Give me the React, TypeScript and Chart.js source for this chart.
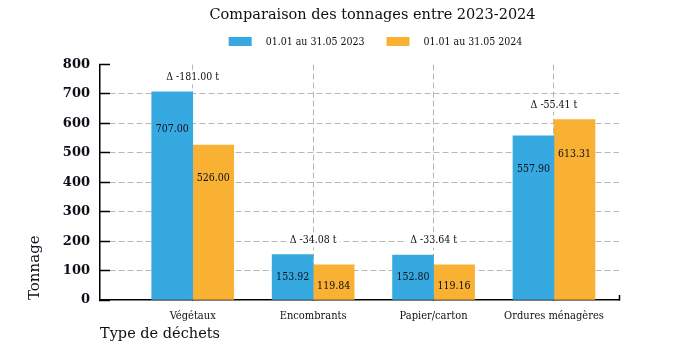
import React, { useEffect, useRef } from 'react';
import { Chart, registerables } from 'chart.js';

Chart.register(...registerables);

const chartTitle = 'Comparaison des tonnages entre 2023-2024';
const yAxisTitle = 'Tonnage';
const xAxisTitle = 'Type de déchets';
const categories = ['Végétaux', 'Encombrants', 'Papier/carton', 'Ordures ménagères'];
const seriesLabels = ['01.01 au 31.05 2023', '01.01 au 31.05 2024'];
const values2023 = [707.0, 153.92, 152.8, 557.9];
const values2024 = [526.0, 119.84, 119.16, 613.31];
const deltas = [-181.0, -34.08, -33.64, -55.41];
const yMin = 0;
const yMax = 800;
const yStep = 100;

const BLUE = '#36a9e1';
const ORANGE = '#f8b133';
const GRID = '#b8b8b8';
const TEXT = '#0e0e18';
const SERIF = '"DejaVu Serif", serif';
const COND = '"DejaVu Serif Condensed", "DejaVu Serif", serif';

const labelsPlugin = {
  id: 'valueLabels',
  afterDatasetsDraw(chart: any) {
    const ctx = chart.ctx;
    ctx.save();
    ctx.font = `10.5px ${COND}`;
    ctx.fillStyle = TEXT;
    ctx.textAlign = 'center';
    ctx.textBaseline = 'middle';
    chart.data.datasets.forEach((ds: any, di: number) => {
      const meta = chart.getDatasetMeta(di);
      meta.data.forEach((bar: any, i: number) => {
        const h = bar.base - bar.y;
        const y = bar.y + 18 + 0.095 * h;
        ctx.fillText(ds.data[i].y.toFixed(2), bar.x, y);
      });
    });
    const m0 = chart.getDatasetMeta(0);
    const m1 = chart.getDatasetMeta(1);
    deltas.forEach((d, i) => {
      const top = Math.min(m0.data[i].y, m1.data[i].y);
      const cx = chart.scales.x.getPixelForValue(i);
      const cy = top - 14.5;
      const txt = `Δ ${d.toFixed(2)} t`;
      const w = ctx.measureText(txt).width;
      ctx.fillStyle = '#ffffff';
      ctx.fillRect(cx - w / 2 - 3, cy - 7, w + 6, 14);
      ctx.fillStyle = TEXT;
      ctx.fillText(txt, cx, cy);
    });
    ctx.restore();
  },
};

const legendPlugin = {
  id: 'customLegend',
  afterLayout(chart: any) {
    const tb = chart.titleBlock;
    if (tb) {
      const w = tb.right - tb.left;
      tb.left = 364.5 - w / 2;
      tb.right = tb.left + w;
    }
  },
  afterDraw(chart: any) {
    const ctx = chart.ctx;
    ctx.save();
    ctx.font = `10.5px ${COND}`;
    ctx.textBaseline = 'middle';
    ctx.textAlign = 'left';
    const boxW = 23;
    const boxH = 9;
    const gapText = 14;
    const gapItem = 22;
    const items = chart.data.datasets.map((ds: any) => ({
      text: ds.label,
      color: ds.backgroundColor,
      w: ctx.measureText(ds.label).width,
    }));
    const total = items.reduce((s: number, it: any) => s + boxW + gapText + it.w, 0) + gapItem * (items.length - 1);
    const centerX = 367.5;
    const cy = 33.5;
    let x = centerX - total / 2;
    items.forEach((it: any) => {
      ctx.fillStyle = it.color;
      ctx.fillRect(x, cy - boxH / 2, boxW, boxH);
      x += boxW + gapText;
      ctx.fillStyle = TEXT;
      ctx.fillText(it.text, x, cy + 0.5);
      x += it.w + gapItem;
    });
    ctx.restore();
  },
};

export default function App() {
  const ref = useRef<HTMLCanvasElement | null>(null);

  useEffect(() => {
    if (!ref.current) return;
    const chart = new Chart(ref.current, {
      type: 'bar',
      data: {
        datasets: [
          {
            label: seriesLabels[0],
            data: values2023.map((v, i) => ({ x: i, y: v })),
            backgroundColor: BLUE,
            barThickness: 41,
          },
          {
            label: seriesLabels[1],
            data: values2024.map((v, i) => ({ x: i, y: v })),
            backgroundColor: ORANGE,
            barThickness: 41,
          },
        ],
      },
      options: {
        responsive: false,
        animation: false,
        layout: { padding: { top: 0, right: 48, bottom: 0, left: 0 } },
        plugins: {
          legend: { display: false },
          tooltip: { enabled: false },
          title: {
            display: true,
            text: chartTitle,
            color: TEXT,
            font: { family: SERIF, size: 14.5, weight: 'normal', lineHeight: 1 },
            padding: { top: 0, bottom: 42 },
          },
        },
        scales: {
          x: {
            type: 'linear',
            offset: false,
            min: -0.77,
            max: 3.54,
            afterBuildTicks: (s: any) => {
              s.ticks = [...categories.map((_, i) => ({ value: i })), { value: s.max }];
            },
            afterFit: (s: any) => {
              s.height = 44;
            },
            ticks: {
              autoSkip: false,
              maxRotation: 0,
              padding: 15,
              color: TEXT,
              font: { family: COND, size: 11 },
              callback: (v: any) => (Number.isInteger(v) ? categories[v] : ''),
            },
            grid: {
              offset: false,
              color: (c: any) => (c.tick && Number.isInteger(c.tick.value) ? GRID : 'rgba(0,0,0,0)'),
              lineWidth: 1,
              tickLength: -5,
              tickColor: '#000',
              tickWidth: 1.5,
            },
            border: { color: '#000', width: 1.5, dash: [6, 3] },
            title: {
              display: true,
              text: xAxisTitle,
              align: 'start',
              color: TEXT,
              font: { family: SERIF, size: 14.5, lineHeight: 1 },
              padding: { top: 0, bottom: 3 },
            },
          },
          y: {
            min: yMin,
            max: yMax,
            afterFit: (s: any) => {
              s.width = 92;
            },
            ticks: {
              stepSize: yStep,
              padding: 20,
              color: TEXT,
              font: { family: SERIF, size: 13, weight: 'bold' },
            },
            grid: {
              color: (c: any) => (c.tick && (c.tick.value === yMin || c.tick.value === yMax) ? 'rgba(0,0,0,0)' : GRID),
              lineWidth: 1,
              tickLength: -10,
              tickColor: '#000',
              tickWidth: 1.5,
            },
            border: { color: '#000', width: 1.5, dash: [6, 3] },
            title: {
              display: true,
              text: yAxisTitle,
              align: 'start',
              color: TEXT,
              font: { family: SERIF, size: 15, lineHeight: 1.2 },
              padding: { top: 18, bottom: 0 },
            },
          },
        },
      } as any,
      plugins: [labelsPlugin, legendPlugin],
    });
    return () => chart.destroy();
  }, []);

  return (
    <div style={{ width: '659px', height: '336px' }}>
      <canvas ref={ref} width={659} height={336} style={{ display: 'block' }} />
    </div>
  );
}
